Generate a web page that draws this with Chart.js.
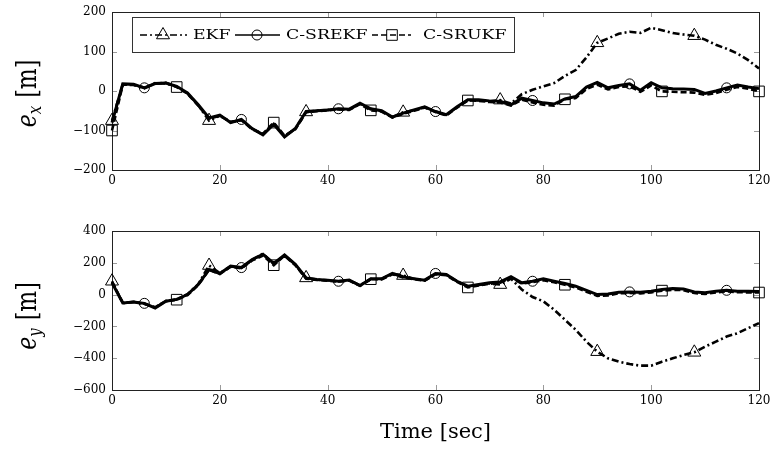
<!DOCTYPE html>
<html><head><meta charset="utf-8">
<script src="https://cdn.jsdelivr.net/npm/chart.js@4/dist/chart.umd.min.js"></script>
<style>
html,body{margin:0;padding:0;background:#fff;}
#wrap{position:relative;width:772px;height:453px;overflow:hidden;}
canvas{position:absolute;left:0;}
</style></head><body>
<div id="wrap">
<canvas id="cx" width="772" height="215" style="top:0px"></canvas>
<canvas id="cy" width="772" height="238" style="top:215px"></canvas>
</div>
<script>
// ---- data ----
const seriesNames = ['EKF', 'C-SREKF', 'C-SRUKF'];
const time = [0,2,4,6,8,10,12,14,16,18,
  20,22,24,26,28,30,32,34,36,38,
  40,42,44,46,48,50,52,54,56,58,
  60,62,64,66,68,70,72,74,76,78,
  80,82,84,86,88,90,92,94,96,98,
  100,102,104,106,108,110,112,114,116,118,
  120];
const xTicks = [0, 20, 40, 60, 80, 100, 120];
const exTicks = [-200, -100, 0, 100, 200];
const eyTicks = [-600, -400, -200, 0, 200, 400];

const exEKF = [-75,17,16,7,20,19,11,-6,-36,-75,
  -62,-79,-73,-96,-110,-82,-115,-96,-53,-50,
  -48,-46,-47,-32,-47,-51,-66,-54,-49,-41,
  -52,-61,-41,-23,-24,-26,-23,-32,-8,3,
  12,20,38,53,85,122,133,145,150,147,
  160,154,147,143,140,130,117,107,95,78,
  57];
const exSREKF = [-80,18,17,8,19,20,12,-5,-35,-68,
  -61,-80,-72,-95,-111,-84,-116,-95,-52,-50,
  -48,-45,-46,-31,-45,-50,-66,-56,-48,-40,
  -52,-60,-40,-22,-22,-25,-26,-35,-18,-24,
  -30,-33,-20,-14,10,22,8,14,18,2,
  21,8,6,5,4,-6,0,8,15,10,
  6];
const exSRUKF = [-100,16,15,9,18,21,10,-7,-37,-70,
  -63,-78,-74,-97,-108,-80,-113,-97,-54,-51,
  -49,-46,-48,-33,-49,-52,-67,-58,-50,-42,
  -53,-62,-42,-24,-25,-28,-29,-37,-22,-29,
  -35,-37,-21,-18,5,16,4,10,12,-2,
  14,-1,-2,-3,-4,-10,-5,3,10,6,
  -1];

const eyEKF = [84,-55,-45,-57,-82,-41,-31,2,66,183,
  135,177,168,218,258,192,247,188,105,94,
  90,83,90,58,98,98,131,120,100,90,
  131,125,83,50,60,70,63,100,32,-15,
  -42,-95,-158,-221,-296,-359,-401,-422,-437,-447,
  -447,-422,-401,-380,-363,-327,-296,-264,-243,-211,
  -179];
const eySREKF = [75,-53,-46,-55,-84,-42,-30,0,63,158,
  133,179,170,221,253,196,249,190,105,95,
  91,84,91,57,99,99,133,112,99,91,
  133,127,84,53,63,74,80,112,74,84,
  99,84,70,53,27,0,4,15,17,15,
  21,32,38,36,17,11,21,27,21,21,
  20];
const eySRUKF = [80,-50,-48,-58,-80,-40,-32,-3,60,155,
  130,175,165,215,245,185,245,185,100,92,
  88,82,88,55,97,96,128,108,96,88,
  128,122,80,45,58,68,75,105,70,78,
  90,78,62,45,18,-8,-5,8,10,8,
  14,25,30,28,10,4,14,20,15,14,
  13];

// marker positions (data indices)
const marksEKF = [0,9,18,27,36,45,54];
const marksSREKF = [3,12,21,30,39,48,57];
const marksSRUKFx = [0,6,15,24,33,42,51,60];
const marksSRUKFy = [6,15,24,33,42,51,60];

// ---- styling helpers ----
const FONT = 'DejaVu Serif';
const minus = v => v < 0 ? '\u2212' + Math.abs(v) : String(v);

function pts(vals){ return time.map((t,i)=>({x:t, y:vals[i]})); }

function drawMarker(ctx, style, x, y, r){
  ctx.beginPath();
  if (style === 'triangle'){
    const h = r*1.5, w = r*Math.sqrt(3)/2;
    ctx.moveTo(x, y - r);
    ctx.lineTo(x + w, y + r/2);
    ctx.lineTo(x - w, y + r/2);
    ctx.closePath();
  } else if (style === 'circle'){
    ctx.arc(x, y, r, 0, Math.PI*2);
  } else {
    const s = r*Math.SQRT1_2;
    ctx.rect(x - s, y - s, 2*s, 2*s);
  }
  ctx.stroke();
}

const framePlugin = {
  id: 'frame',
  beforeDatasetsDraw(chart){
    const {ctx, chartArea:a, scales} = chart;
    ctx.save();
    ctx.strokeStyle = '#9a9a9a'; ctx.lineWidth = 1; ctx.setLineDash([]);
    ctx.beginPath();
    scales.x.ticks.forEach(t=>{
      const px = Math.round(scales.x.getPixelForValue(t.value)) + 0.5;
      ctx.moveTo(px, a.bottom); ctx.lineTo(px, a.bottom - 5);
      ctx.moveTo(px, a.top); ctx.lineTo(px, a.top + 5);
    });
    scales.y.ticks.forEach(t=>{
      const py = Math.round(scales.y.getPixelForValue(t.value)) + 0.5;
      ctx.moveTo(a.left, py); ctx.lineTo(a.left + 5, py);
      ctx.moveTo(a.right, py); ctx.lineTo(a.right - 5, py);
    });
    ctx.stroke();
    ctx.strokeStyle = '#222';
    ctx.strokeRect(Math.round(a.left)+0.5, Math.round(a.top)+0.5, Math.round(a.right-a.left), Math.round(a.bottom-a.top));
    ctx.restore();
  }
};

const yLabelPlugin = {
  id: 'ylab',
  afterDraw(chart, args, o){
    if (!o || !o.sub) return;
    const ctx = chart.ctx, a = chart.chartArea;
    const cy = (a.top + a.bottom)/2 + o.dy;
    ctx.save();
    ctx.translate(o.x, cy);
    ctx.rotate(-Math.PI/2);
    ctx.scale(1, 1.25);
    ctx.fillStyle = '#000';
    ctx.textBaseline = 'alphabetic';
    const f1 = 'italic 22px ' + FONT, f2 = 'italic 15px ' + FONT, f3 = '22px ' + FONT;
    ctx.font = f1; const w1 = ctx.measureText('e').width;
    ctx.font = f2; const w2 = ctx.measureText(o.sub).width;
    ctx.font = f3; const w3 = ctx.measureText(' [m]').width;
    let x = -(w1 + w2 + w3)/2;
    ctx.font = f1; ctx.fillText('e', x, 0); x += w1;
    ctx.font = f2; ctx.fillText(o.sub, x, 4); x += w2 + 1;
    ctx.font = f3; ctx.fillText(' [m]', x, 0);
    ctx.restore();
  }
};

const legendPlugin = {
  id: 'boxLegend',
  afterDraw(chart, args, o){
    if (!o || !o.show) return;
    const ctx = chart.ctx;
    const b = o.box;
    ctx.save();
    ctx.fillStyle = '#fff';
    ctx.fillRect(b.x, b.y, b.w, b.h);
    ctx.strokeStyle = '#333'; ctx.lineWidth = 1;
    ctx.strokeRect(b.x + 0.5, b.y + 0.5, b.w, b.h);
    const cy = b.y + b.h/2 + 0.5;
    chart.data.datasets.forEach((ds, i)=>{
      const it = o.items[i];
      ctx.strokeStyle = '#000';
      ctx.lineWidth = 1.3;
      ctx.setLineDash(ds.borderDash || []);
      ctx.beginPath(); ctx.moveTo(it.x1, cy); ctx.lineTo(it.x2, cy); ctx.stroke();
      ctx.setLineDash([]);
      ctx.lineWidth = 1;
      ctx.fillStyle = '#fff';
      drawMarker(ctx, ds.pointStyle, it.m, cy, ds.markR);
      ctx.fillStyle = '#000';
      ctx.font = '12px ' + FONT;
      ctx.textBaseline = 'middle';
      ctx.save();
      ctx.translate(it.t, cy + 0.5);
      ctx.scale(1.44, 1);
      ctx.fillText(ds.label, 0, 0);
      ctx.restore();
    });
    ctx.restore();
  }
};

function makeDataset(label, vals, style, dash, width, marks, r, order){
  return {
    label, data: pts(vals),
    borderColor: '#000', backgroundColor: 'rgba(0,0,0,0)',
    borderWidth: width, borderDash: dash, tension: 0,
    pointStyle: style, markR: r,
    pointRadius: c => marks.includes(c.dataIndex) ? r : 0,
    pointHoverRadius: 0,
    pointBorderColor: '#000', pointBackgroundColor: 'rgba(0,0,0,0)', pointBorderWidth: 1,
    clip: false, order
  };
}

function makeChart(id, opts){
  return new Chart(document.getElementById(id), {
    type: 'line',
    data: { datasets: [
      makeDataset(seriesNames[0], opts.ekf, 'triangle', [7,3,2,3], 2.6, marksEKF, 7.5, 2),
      makeDataset(seriesNames[1], opts.srekf, 'circle', [], 3, marksSREKF, 5, 0),
      makeDataset(seriesNames[2], opts.srukf, 'rect', [6,3], 2.6, opts.marksUKF, 7.5, 1)
    ]},
    options: {
      responsive: false, animation: false, events: [],
      layout: { padding: { left: 0, right: 13, top: opts.padTop, bottom: 0 } },
      plugins: {
        legend: { display: false }, tooltip: { enabled: false },
        ylab: { sub: opts.sub, x: 36, dy: opts.dy },
        boxLegend: opts.legend
      },
      scales: {
        x: {
          type: 'linear', min: 0, max: 120,
          grid: { display: false, drawTicks: false }, border: { display: false },
          afterBuildTicks: s => { s.ticks = xTicks.map(v => ({value: v})); },
          ticks: { font: { family: FONT, size: 12 }, color: '#000', padding: 4, maxRotation: 0, autoSkip: false,
                   callback: v => minus(v) },
          title: opts.xTitle ? { display: true, text: 'Time [sec]', font: { family: FONT, size: 21 }, color: '#000', padding: { top: 0, bottom: 8 } } : { display: false },
          afterFit: s => { s.height = opts.xh; s.paddingLeft = 0; s.paddingRight = 0; }
        },
        y: {
          min: opts.yTicks[0], max: opts.yTicks[opts.yTicks.length-1],
          grid: { display: false, drawTicks: false }, border: { display: false },
          afterBuildTicks: s => { s.ticks = opts.yTicks.map(v => ({value: v})); },
          ticks: { font: { family: FONT, size: 12 }, color: '#000', padding: 6, autoSkip: false,
                   callback: v => minus(v) },
          afterFit: s => { s.width = 112; s.paddingTop = 0; s.paddingBottom = 0; }
        }
      }
    },
    plugins: [framePlugin, yLabelPlugin, legendPlugin]
  });
}

makeChart('cx', {
  ekf: exEKF, srekf: exSREKF, srukf: exSRUKF, marksUKF: marksSRUKFx,
  yTicks: exTicks, padTop: 12, xh: 45, sub: 'x', dy: 3, xTitle: false,
  legend: { show: true, box: { x: 132, y: 17, w: 382, h: 35 },
    items: [ { x1: 140, x2: 187, m: 163, t: 193 },
             { x1: 235, x2: 280, m: 257, t: 286 },
             { x1: 372, x2: 411, m: 392, t: 423 } ] }
});
makeChart('cy', {
  ekf: eyEKF, srekf: eySREKF, srukf: eySRUKF, marksUKF: marksSRUKFy,
  yTicks: eyTicks, padTop: 16, xh: 63, sub: 'y', dy: 6, xTitle: true,
  legend: { show: false }
});
</script>
</body></html>
